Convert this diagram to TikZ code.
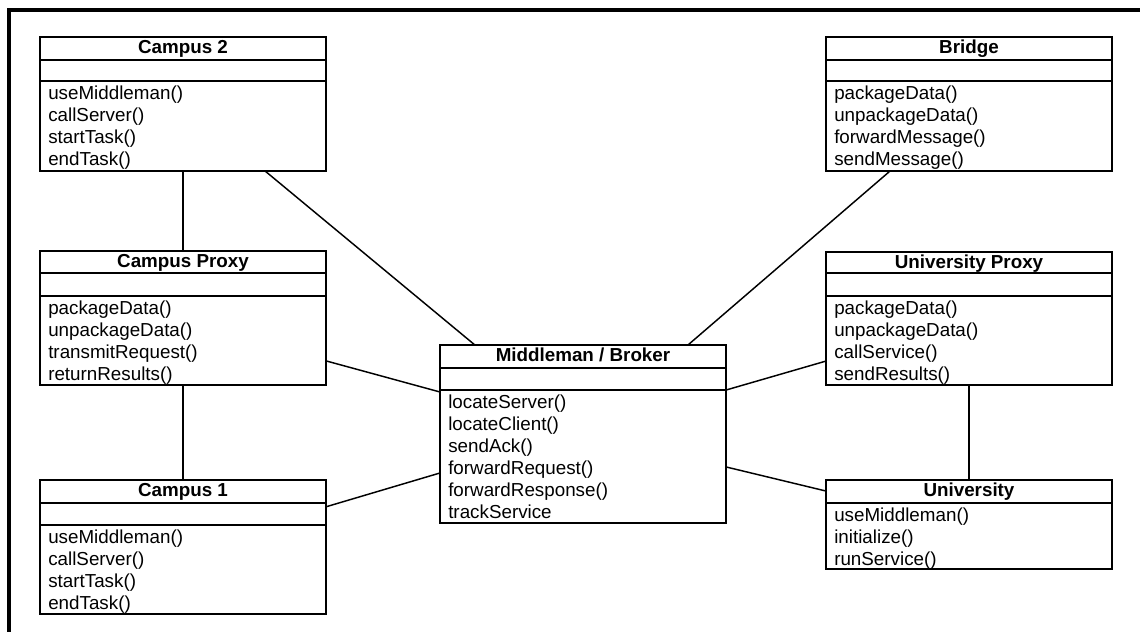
\documentclass[tikz,border=0pt]{standalone}
\usepackage{fontspec}
\setmainfont{Liberation Sans}
\usetikzlibrary{calc}
\tikzset{
  classbox/.style={draw=black, line width=1.1pt, fill=white, inner sep=0pt, outer sep=0pt},
  classline/.style={draw=black, line width=1.1pt},
  titletext/.style={font=\fontsize{14.1pt}{16.5pt}\selectfont\bfseries, inner sep=0pt, anchor=base},
  methodtext/.style={font=\fontsize{14.1pt}{16.5pt}\selectfont, inner sep=0pt, anchor=base west},
  conn/.style={draw=black, line width=1.1pt},
  frame/.style={draw=black, line width=2.4pt}
}
\newcommand\umlclass[8]{%
  \node[classbox, anchor=north west, minimum width=214.5pt, minimum height={(#6-#3)*0.75pt}] (#1) at (#2,#3) {};
  \draw[classline] (#2,#4) -- (#2+286,#4);
  \draw[classline] (#2,#5) -- (#2+286,#5);
  \node[titletext] (#1t) at (#2+143,#3+16.5) {#7};
  \foreach \m [count=\i] in {#8}
    \node[methodtext] (#1m\i) at (#2+8,#5+18.5+22*\i-22) {\m};
}
\begin{document}
\begin{tikzpicture}[x=0.75pt,y=-0.75pt]
\useasboundingbox (0,0) rectangle (1140,632);
\fill[white] (0,0) rectangle (1140,632);
\draw[frame] (9,640) -- (9,10) -- (1150,10);

\umlclass{c2}{40}{37}{60}{81}{171}{Campus 2}{useMiddleman(),callServer(),startTask(),endTask()}
\umlclass{br}{826}{37}{60}{81}{171}{Bridge}{packageData(),unpackageData(),forwardMessage(),sendMessage()}
\umlclass{cp}{40}{251}{273}{296}{385}{Campus Proxy}{packageData(),unpackageData(),transmitRequest(),returnResults()}
\umlclass{up}{826}{252}{273}{296}{385}{University Proxy}{packageData(),unpackageData(),callService(),sendResults()}
\umlclass{mm}{440}{345}{368}{390}{523}{Middleman / Broker}{locateServer(),locateClient(),sendAck(),forwardRequest(),forwardResponse(),trackService}
\umlclass{c1}{40}{480}{503}{525}{614}{Campus 1}{useMiddleman(),callServer(),startTask(),endTask()}
\umlclass{un}{826}{480}{503}{503}{569}{University}{useMiddleman(),initialize(),runService()}

\draw[conn] (c2.south) -- (cp.north);
\draw[conn] (cp.south) -- (c1.north);
\draw[conn] (up.south) -- (un.north);
\draw[conn] ($(c2.south west)!0.787!(c2.south east)$) -- ($(mm.north west)!0.122!(mm.north east)$);
\draw[conn] ($(br.south west)!0.224!(br.south east)$) -- ($(mm.north west)!0.867!(mm.north east)$);
\draw[conn] ($(cp.north east)!0.82!(cp.south east)$) -- ($(mm.north west)!0.264!(mm.south west)$);
\draw[conn] ($(c1.north east)!0.2!(c1.south east)$) -- ($(mm.north west)!0.719!(mm.south west)$);
\draw[conn] ($(up.north west)!0.82!(up.south west)$) -- ($(mm.north east)!0.253!(mm.south east)$);
\draw[conn] ($(mm.north east)!0.685!(mm.south east)$) -- ($(un.north west)!0.124!(un.south west)$);
\end{tikzpicture}
\end{document}
